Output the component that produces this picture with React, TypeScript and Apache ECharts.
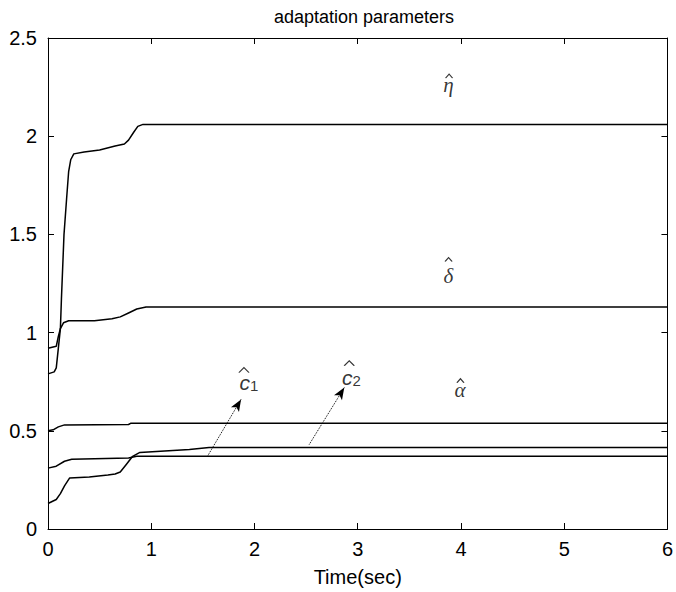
import React, { useEffect, useRef } from "react";
import * as echarts from "echarts";

const xTicks = [0, 1, 2, 3, 4, 5, 6];
const yTicks = [0, 0.5, 1, 1.5, 2, 2.5];

const etaHat: [number, number][] = [
  [0, 0.79], [0.06, 0.8], [0.08, 0.82], [0.1, 0.92], [0.12, 1.02], [0.13, 1.17],
  [0.155, 1.5], [0.18, 1.68], [0.2, 1.82], [0.22, 1.88], [0.25, 1.91], [0.35, 1.92],
  [0.5, 1.93], [0.65, 1.95], [0.74, 1.96], [0.78, 1.98], [0.83, 2.02], [0.87, 2.05],
  [0.92, 2.06], [6, 2.06],
];
const deltaHat: [number, number][] = [
  [0, 0.92], [0.08, 0.93], [0.1, 0.98], [0.12, 1.02], [0.15, 1.05], [0.2, 1.06],
  [0.45, 1.06], [0.62, 1.07], [0.7, 1.08], [0.78, 1.1], [0.86, 1.12], [0.95, 1.13], [6, 1.13],
];
const alphaHat: [number, number][] = [
  [0, 0.5], [0.05, 0.505], [0.1, 0.52], [0.16, 0.53], [0.78, 0.532], [0.8, 0.538], [6, 0.538],
];
const c1Hat: [number, number][] = [
  [0, 0.31], [0.08, 0.32], [0.16, 0.345], [0.23, 0.355], [0.78, 0.362], [0.86, 0.37], [6, 0.37],
];
const c2Hat: [number, number][] = [
  [0, 0.13], [0.04, 0.14], [0.08, 0.15], [0.12, 0.18], [0.16, 0.22], [0.21, 0.26],
  [0.4, 0.265], [0.58, 0.275], [0.65, 0.28], [0.7, 0.29], [0.76, 0.33], [0.82, 0.37],
  [0.89, 0.39], [1.37, 0.405], [1.56, 0.415], [6, 0.415],
];

const arrowC1: [number, number][] = [[1.55, 0.375], [1.87, 0.66]];
const arrowC2: [number, number][] = [[2.53, 0.43], [2.87, 0.72]];

// label anchors (data coordinates)
const greekLetters = ["\u03B7", "\u03B4", "\u03B1"];
const greekPos: [number, number][] = [[3.879, 2.26], [3.879, 1.29], [3.99, 0.71]];
const greekHatPos: [number, number][] = [[3.885, 2.306], [3.88, 1.372], [3.995, 0.755]];
const cSubs = ["1", "2"];
const cPos: [number, number][] = [[1.946, 0.747], [2.94, 0.772]];
const cHatPos: [number, number][] = [[1.898, 0.809], [2.918, 0.844]];

const FONT = "Liberation Sans, Arial, sans-serif";
const HAT = "path://M0,10L5,0L10,10";

export default function App() {
  const ref = useRef<HTMLDivElement>(null);
  useEffect(() => {
    if (!ref.current) return;
    const chart = echarts.init(ref.current, undefined, { renderer: "svg" });
    const axisCommon = {
      axisLine: { show: true, onZero: false, lineStyle: { color: "#000", width: 1 } },
      axisTick: { show: true, inside: true, length: 6, lineStyle: { color: "#000" } },
      splitLine: { show: false },
    };
    const lineSeries = (data: [number, number][]) => ({
      type: "line",
      data,
      showSymbol: false,
      symbol: "none",
      lineStyle: { color: "#000", width: 1.5 },
      silent: true,
      z: 3,
    });
    const hatSeries = (data: [number, number][], size: [number, number]) => ({
      type: "scatter",
      data,
      symbol: HAT,
      symbolSize: size,
      silent: true,
      z: 5,
      itemStyle: { color: "none", borderColor: "#000", borderWidth: 1 },
    });
    chart.setOption({
      animation: false,
      backgroundColor: "#fff",
      title: {
        text: "adaptation parameters",
        left: 359,
        textAlign: "center",
        top: 3,
        textStyle: { fontFamily: FONT, fontSize: 18, fontWeight: "normal", color: "#000" },
      },
      grid: { left: 48, right: 7, top: 38, bottom: 63, show: false },
      xAxis: [
        {
          type: "value",
          min: xTicks[0],
          max: xTicks[xTicks.length - 1],
          interval: 1,
          position: "bottom",
          ...axisCommon,
          axisLabel: { color: "#000", fontSize: 20, fontFamily: FONT, margin: 10 },
          name: "Time(sec)",
          nameLocation: "middle",
          nameGap: 38,
          nameTextStyle: { color: "#000", fontSize: 20, fontFamily: FONT },
        },
        {
          type: "value",
          min: xTicks[0],
          max: xTicks[xTicks.length - 1],
          interval: 1,
          position: "top",
          ...axisCommon,
          axisLabel: { show: false },
        },
      ],
      yAxis: [
        {
          type: "value",
          min: yTicks[0],
          max: yTicks[yTicks.length - 1],
          interval: 0.5,
          position: "left",
          ...axisCommon,
          axisLabel: { color: "#000", fontSize: 20, fontFamily: FONT, margin: 11 },
        },
        {
          type: "value",
          min: yTicks[0],
          max: yTicks[yTicks.length - 1],
          interval: 0.5,
          position: "right",
          ...axisCommon,
          axisLabel: { show: false },
        },
      ],
      series: [
        lineSeries(etaHat),
        lineSeries(deltaHat),
        lineSeries(alphaHat),
        lineSeries(c1Hat),
        {
          ...lineSeries(c2Hat),
          markLine: {
            silent: true,
            symbol: ["none", "arrow"],
            symbolSize: [7, 12],
            label: { show: false },
            lineStyle: { color: "#000", type: "dotted", width: 1 },
            data: [
              [{ coord: arrowC1[0] }, { coord: arrowC1[1] }],
              [{ coord: arrowC2[0] }, { coord: arrowC2[1] }],
            ],
          },
        },
        {
          type: "scatter",
          symbolSize: 0,
          silent: true,
          z: 5,
          data: greekLetters.map((g, i) => ({
            value: greekPos[i],
            label: {
              show: true,
              position: "inside",
              formatter: g,
              fontFamily: "Liberation Serif, Times New Roman, serif",
              fontStyle: "italic",
              fontSize: 21,
              color: "#000",
            },
          })),
        },
        hatSeries(greekHatPos, [7, 4]),
        {
          type: "scatter",
          symbolSize: 0,
          silent: true,
          z: 5,
          data: cSubs.map((s, i) => ({
            value: cPos[i],
            label: {
              show: true,
              position: "inside",
              formatter: `{c|c}{s|${s}}`,
              rich: {
                c: { fontFamily: FONT, fontStyle: "italic", fontSize: 21, lineHeight: 21, color: "#000", verticalAlign: "bottom" },
                s: { fontFamily: FONT, fontSize: 15, lineHeight: 9, color: "#000", verticalAlign: "bottom" },
              },
            },
          })),
        },
        hatSeries(cHatPos, [10, 5]),
      ],
    });
    return () => chart.dispose();
  }, []);
  return (
    <div
      ref={ref}
      style={{ position: "absolute", left: 0, top: 0, width: 676, height: 592, background: "#fff" }}
    />
  );
}
